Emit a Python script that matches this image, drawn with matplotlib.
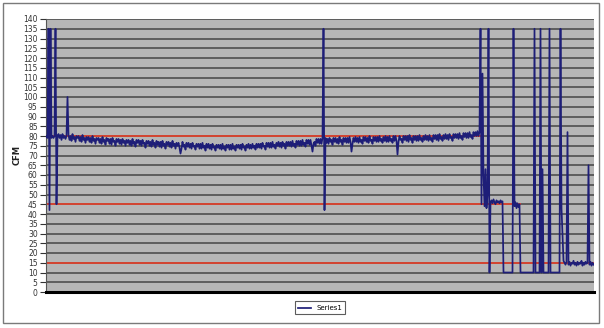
import matplotlib.pyplot as plt
from matplotlib.patches import Rectangle

# leituras de CFM, uma por amostra
inicio = [80, 79, 135, 42, 135, 79, 80, 79, 80, 135, 45, 80]
banda1 = [81, 79, 80.5, 78, 81, 79, 80, 78.5, 80]
pico1 = [100]
banda2 = [
    80.5, 78, 80, 77.5, 81, 78.5, 79.5, 77, 80, 79,
    80, 77.5, 79.5, 77, 80.5, 78, 79, 76.5, 79.5, 78,
    79.5, 77, 79, 76.5, 80, 77.5, 78.5, 76, 79, 78,
    79, 76.5, 78.5, 76, 79.5, 77, 78, 75.5, 79, 77.5,
    78.5, 76, 78.5, 75.5, 79, 77, 77.5, 75, 78.5, 77,
    78.5, 76, 78, 75.5, 78.5, 76.5, 77.5, 75, 78, 76.5,
    78, 75.5, 77.5, 75, 78.5, 76, 77, 74.5, 78, 76.5,
    78, 75.5, 77.5, 75, 78, 76, 76.5, 74, 77.5, 76,
    77.5, 75, 77, 74.5, 78, 75.5, 76.5, 74, 77.5, 75.5,
    77, 74.5, 77, 74, 77.5, 75, 76, 73.5, 77, 75.5,
    77, 74.5, 76.5, 74, 77.5, 75, 76, 73.5, 76.5, 75,
    76.5, 74, 71, 73.5, 77, 74.5, 75.5, 73, 76.5, 74.5,
    76.5, 74, 76, 73.5, 76.5, 74.5, 75, 73, 76, 74.5,
    76, 73.5, 76, 73.5, 76.5, 74, 75, 72.5, 76, 74,
    76, 73.5, 75.5, 73, 76, 74, 74.5, 72.5, 75.5, 74,
    75.5, 73.5, 75.5, 73, 76, 73.5, 74.5, 72.5, 75.5, 74,
    75.5, 73, 75.5, 73, 76, 73.5, 74.5, 72.5, 75.5, 74,
    75.5, 73.5, 75.5, 73, 76, 74, 74.5, 72.5, 75.5, 74,
    76, 73.5, 75.5, 73.5, 76, 74, 75, 73, 76, 74,
    76, 74, 76, 73.5, 76.5, 74.5, 75, 73, 76.5, 74.5,
    76.5, 74, 76.5, 74, 77, 74.5, 75.5, 73.5, 76.5, 75,
    77, 74.5, 76.5, 74, 77, 75, 76, 73.5, 77, 75,
    77, 75, 77, 74.5, 77.5, 75, 76, 74, 77.5, 75.5,
    77.5, 75, 77.5, 75, 78, 75.5, 76.5, 74.5, 78, 76,
    78, 75.5, 78, 75, 72, 76, 77, 75, 78.5, 76.5,
    78.5, 76, 78.5, 76, 79,
]
pico2 = [135, 42]
banda3 = [
    79, 76.5, 78.5, 76, 79, 77, 78, 75.5, 79, 77,
    79, 76.5, 78.5, 76, 79.5, 77, 78, 75.5, 79, 77,
    79, 76.5, 79, 76.5, 79.5, 77, 72, 76, 79, 77,
    79.5, 77, 79, 76.5, 79.5, 77, 78, 76, 79.5, 77.5,
    79.5, 77, 79, 76.5, 80, 77.5, 78, 76, 79.5, 77.5,
    79.5, 77, 79.5, 77, 80, 77.5, 78.5, 76.5, 79.5, 77.5,
    80, 77, 79.5, 77, 80, 77.5, 78.5, 76.5, 80, 77.5,
    80, 77.5, 70.5, 77, 80, 78, 78.5, 76.5, 80, 78,
    80, 77.5, 80, 77, 80.5, 78, 79, 76.5, 80, 78,
    80, 77.5, 80, 77.5, 80.5, 78, 79, 77, 80, 78,
    80.5, 78, 80, 77.5, 80.5, 78, 79, 77, 80.5, 78.5,
    80.5, 78, 80.5, 77.5, 81, 78.5, 79.5, 77.5, 80.5, 78.5,
    81, 78.5, 80.5, 78, 81, 79, 79.5, 77.5, 81, 79,
    81, 79, 81, 78.5, 81.5, 79, 80, 78, 81.5, 79.5,
    81.5, 79, 81.5, 79, 82, 79.5, 80.5, 78.5, 82, 80,
    82, 80, 82.5, 80, 82,
]
final = (
    [135, 45, 112, 60, 44, 63, 43, 50, 135, 10]
    + [46, 47, 45.5, 47.5, 46, 45, 47, 46, 46.5, 45.5, 47, 46, 46.5]
    + [10] * 10
    + [135, 44, 46, 43, 45.5, 43.5, 45]
    + [10] * 14
    + [135, 10, 10, 10, 10, 10, 135, 10, 63, 10, 10, 10, 10, 10, 10]
    + [135] + [10] * 10
    + [135, 43, 30, 16, 15, 14, 15.5, 82]
    + [14, 15.5, 13.5, 15, 14.5, 16, 14, 15, 13.5, 15.5,
       14, 15, 14.5, 16, 13.5, 15, 14, 15.5, 14.5, 15]
    + [65, 14, 15.5, 13.5, 15, 14]
)

cfm = inicio + banda1 + pico1 + banda2 + pico2 + banda3 + final
amostras = list(range(len(cfm)))

# linhas vermelhas de referencia: nivel e ultima amostra
limites = [80, 45, 15]
fins = [434, 474, len(cfm) - 0.5]

fig = plt.figure(figsize=(6.04, 3.28), dpi=100)
ax = fig.add_axes([46 / 604, 1 - 292 / 328, 548 / 604, 273 / 328])
ax.set_facecolor('#b6b6b6')
ax.set_xlim(-0.5, len(cfm) - 0.5)
ax.set_ylim(0, 140)
ax.set_yticks(range(0, 141, 5))
ax.set_xticks([])
ax.grid(axis='y', color='#454545', lw=1.1)
ax.set_axisbelow(True)

for nivel, fim in zip(limites, fins):
    ax.hlines(nivel, -0.5, fim, color='#e8402a', lw=1.2, zorder=2)

ax.plot(amostras, cfm, color='#1e1e78', lw=1.25, label='Series1', zorder=3)

ax.spines['top'].set_visible(False)
ax.spines['right'].set_visible(False)
ax.spines['left'].set_color('#555555')
ax.spines['left'].set_linewidth(0.8)
ax.spines['bottom'].set_color('black')
ax.spines['bottom'].set_linewidth(2.2)
ax.tick_params(axis='y', length=4, width=0.8, colors='#333333',
               labelsize=5.5, pad=2)

fig.text(17 / 604, 1 - 155 / 328, 'CFM', rotation=90, ha='center',
         va='center', fontsize=6, fontweight='bold', color='#222222')

leg = ax.legend(loc='upper center', bbox_to_anchor=(0.5, -0.022),
                fontsize=5, frameon=True, fancybox=False,
                handlelength=1.8, borderpad=0.5)
leg.get_frame().set_edgecolor('#333333')
leg.get_frame().set_linewidth(0.8)

fig.patches.append(Rectangle((3 / 604, 5 / 328), 596 / 604, 320 / 328,
                             transform=fig.transFigure, fill=False,
                             ec='#7a7a7a', lw=1))

fig.savefig('out.png', dpi=100)
